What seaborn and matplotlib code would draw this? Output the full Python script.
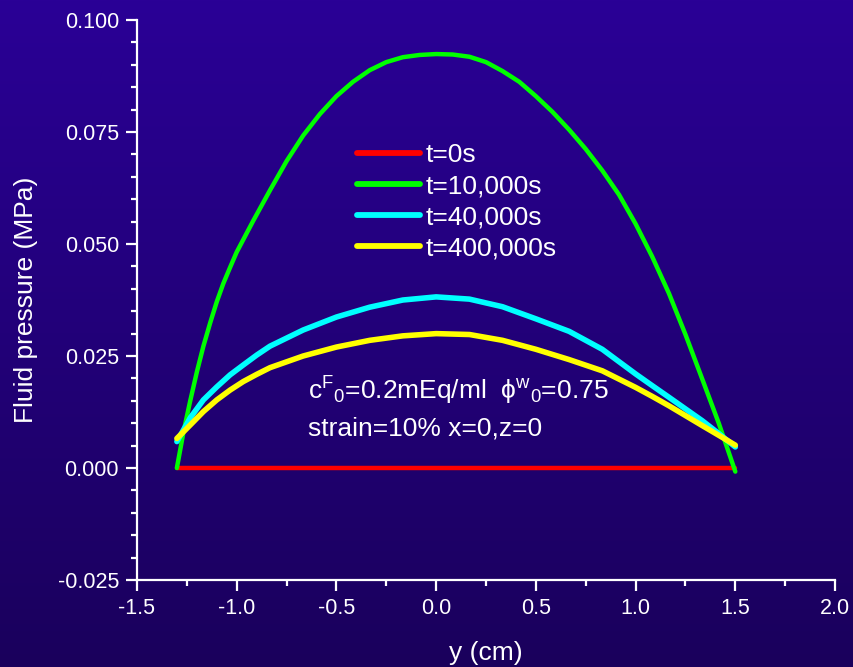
import numpy as np
import pandas as pd
import matplotlib
matplotlib.use("Agg")
import matplotlib.pyplot as plt
import seaborn as sns

# valores
y_cm_10000 = [-1.300, -1.267, -1.233, -1.200, -1.167, -1.133, -1.100, -1.067, -1.033,
              -1.000, -0.917, -0.833, -0.750, -0.667, -0.583, -0.500, -0.417, -0.333,
              -0.250, -0.167, -0.083, 0.000, 0.083, 0.167, 0.250, 0.333, 0.417, 0.500,
              0.583, 0.667, 0.750, 0.833, 0.917, 1.000, 1.083, 1.167, 1.250, 1.333,
              1.417, 1.500]
p_10000s = [0.0000, 0.0080, 0.0150, 0.0214, 0.0272, 0.0324, 0.0371, 0.0412, 0.0448,
            0.0482, 0.0552, 0.0620, 0.0685, 0.0742, 0.0790, 0.0830, 0.0862, 0.0888,
            0.0906, 0.0917, 0.0922, 0.0924, 0.0923, 0.0918, 0.0906, 0.0886, 0.0862, 0.0830,
            0.0795, 0.0755, 0.0712, 0.0664, 0.0610, 0.0545, 0.0472, 0.0390, 0.0298, 0.0200,
            0.0100, -0.0008]

y_cm = [-1.300, -1.233, -1.167, -1.100, -1.033, -0.967, -0.900, -0.833, -0.667, -0.500,
        -0.333, -0.167, 0.000, 0.167, 0.333, 0.500, 0.667, 0.833, 1.000, 1.083,
        1.167, 1.250, 1.333, 1.417, 1.500]
p_40000s = [0.0059, 0.0112, 0.0152, 0.0181, 0.0208, 0.0230, 0.0252, 0.0272, 0.0308, 0.0337,
            0.0359, 0.0375, 0.0382, 0.0377, 0.0360, 0.0333, 0.0305, 0.0265, 0.0210, 0.0184,
            0.0158, 0.0132, 0.0106, 0.0077, 0.0047]
p_400000s = [0.0066, 0.0096, 0.0126, 0.0152, 0.0174, 0.0193, 0.0209, 0.0224, 0.0250, 0.0270,
             0.0285, 0.0295, 0.0300, 0.0298, 0.0285, 0.0265, 0.0242, 0.0217, 0.0180, 0.0160,
             0.0139, 0.0117, 0.0095, 0.0073, 0.0051]

y_cm_0 = [-1.30, 1.50]
p_0s = [0.0, 0.0]

series_labels = ['t=0s', 't=10,000s', 't=40,000s', 't=400,000s']
series_x = [y_cm_0, y_cm_10000, y_cm, y_cm]
series_values = [p_0s, p_10000s, p_40000s, p_400000s]
series_colors = ['#ff0000', '#00ff00', '#00ffff', '#ffff00']
series_lw = [3.2, 3.2, 4.0, 4.0]

sns.set_style("ticks")
plt.rcParams['font.family'] = ['Liberation Sans', 'DejaVu Sans']
plt.rcParams['mathtext.fontset'] = 'custom'
plt.rcParams['mathtext.rm'] = 'Liberation Sans'
plt.rcParams['mathtext.it'] = 'Liberation Sans'

fig = plt.figure(figsize=(8.54, 6.67), dpi=100)

# fundo em degrade
bg = fig.add_axes([0, 0, 1, 1], zorder=-10)
top = np.array([42, 0, 150]) / 255
bot = np.array([26, 0, 92]) / 255
t = np.linspace(0, 1, 256)[:, None]
grad = (top[None, :] * (1 - t) + bot[None, :] * t)[:, None, :]
bg.imshow(grad, aspect='auto', extent=[0, 1, 0, 1])
bg.axis('off')

ax = fig.add_axes([0.1604, 0.1304, 0.8174, 0.8396])
ax.set_facecolor('none')

for lab, xs, vals, col, lw in zip(series_labels, series_x, series_values, series_colors, series_lw):
    df = pd.DataFrame({'y': xs, 'p': vals})
    sns.lineplot(data=df, x='y', y='p', ax=ax, color=col, lw=lw, label=lab,
                 sort=False, solid_capstyle='round', solid_joinstyle='round')

ax.set_xlim(-1.5, 2.0)
ax.set_ylim(-0.025, 0.100)
ax.set_xticks([-1.5, -1.0, -0.5, 0.0, 0.5, 1.0, 1.5, 2.0])
ax.set_xticks(np.arange(-1.5, 2.01, 0.25), minor=True)
ax.set_yticks([-0.025, 0.0, 0.025, 0.050, 0.075, 0.100])
ax.set_yticks(np.arange(-0.025, 0.1001, 0.005), minor=True)
ax.set_yticklabels(['-0.025', '0.000', '0.025', '0.050', '0.075', '0.100'])
ax.set_xticklabels(['-1.5', '-1.0', '-0.5', '0.0', '0.5', '1.0', '1.5', '2.0'])

for s in ['top', 'right']:
    ax.spines[s].set_visible(False)
for s in ['left', 'bottom']:
    ax.spines[s].set_color('white')
    ax.spines[s].set_linewidth(1.6)

ax.tick_params(which='major', direction='out', length=8, width=1.6, colors='white',
               labelsize=15.5, pad=5)
ax.tick_params(which='minor', direction='out', length=4, width=1.6, colors='white')

ax.set_xlabel('y (cm)', color='white', fontsize=19, labelpad=16)
ax.set_ylabel('Fluid pressure (MPa)', color='white', fontsize=19, labelpad=14)

leg = ax.legend(loc='upper left', bbox_to_anchor=(0.315, 0.78), frameon=False,
                fontsize=19, labelcolor='white', handlelength=2.4, handletextpad=0.2,
                labelspacing=0.27, borderpad=0, borderaxespad=0)
for h in leg.get_lines():
    h.set_linewidth(4.2)
    h.set_solid_capstyle('round')

ax.text(-0.645, 0.0172,
        r'c$^{\mathregular{F}}{}_{\mathregular{0}}$=0.2mEq/ml  ϕ$^{\mathregular{w}}{}_{\mathregular{0}}$=0.75',
        color='white', fontsize=19, va='center', ha='left')
ax.text(-0.645, 0.0089, 'strain=10% x=0,z=0', color='white', fontsize=19,
        va='center', ha='left')

fig.savefig('out.png', dpi=100)
